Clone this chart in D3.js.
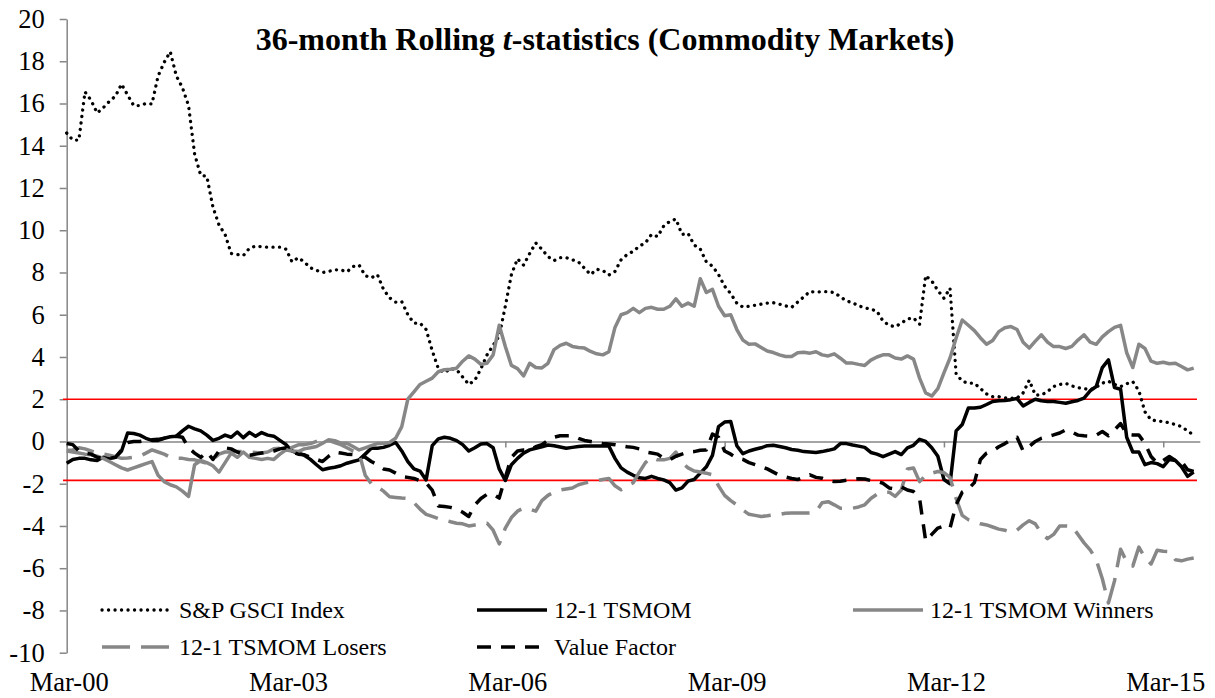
<!DOCTYPE html>
<html>
<head>
<meta charset="utf-8">
<script src="https://cdn.jsdelivr.net/npm/d3@7"></script>
<style>
  body { margin: 0; background: #fff; }
  svg { display: block; }
</style>
</head>
<body>
<div id="root"></div>
<script>
// monthly 36-month rolling t-statistics, one row per year starting Mar-00
const gsci = [
  14.6, 14.27, 14.27, 16.55, 16.15, 15.55, 15.8, 16.1, 16.35, 16.92, 16.4, 15.9,
  15.9, 16.0, 15.98, 17.3, 17.95, 18.45, 17.3, 16.75, 15.9, 13.6, 12.6, 12.55,
  11.1, 10.25, 9.8, 8.9, 8.85, 8.8, 9.15, 9.25, 9.22, 9.2, 9.2, 9.2,
  9.1, 8.5, 8.7, 8.5, 8.22, 8.1, 8.0, 8.05, 8.13, 8.12, 8.03, 8.28,
  8.35, 7.85, 7.75, 7.9, 7.2, 6.8, 6.6, 6.62, 6.0, 5.6, 5.6, 5.3,
  4.3, 3.45, 3.25, 3.45, 3.4, 3.05, 2.7, 2.9, 3.45, 4.1, 4.55, 5.0,
  6.4, 7.9, 8.65, 8.35, 8.9, 9.4, 9.1, 8.75, 8.56, 8.7, 8.7, 8.6,
  8.5, 8.2, 7.9, 8.15, 8.1, 7.88, 8.05, 8.6, 8.85, 9.0, 9.25, 9.4,
  9.8, 9.7, 10.2, 10.42, 10.53, 9.8, 9.85, 9.3, 9.11, 8.5, 8.3, 7.9,
  7.35, 7.0, 6.55, 6.36, 6.4, 6.45, 6.5, 6.55, 6.57, 6.5, 6.42, 6.35,
  6.6, 6.85, 7.1, 7.07, 7.09, 7.09, 7.05, 6.85, 6.65, 6.57, 6.42, 6.33,
  6.26, 6.17, 5.7, 5.5, 5.43, 5.6, 5.8, 5.85, 5.55, 7.85, 7.6, 7.15,
  6.78, 7.26, 3.2, 2.85, 2.76, 2.76, 2.5, 2.25, 2.12, 2.12, 2.07, 2.05,
  2.05, 2.3, 2.9, 2.2, 2.2, 2.36, 2.6, 2.7, 2.75, 2.63, 2.55, 2.5,
  2.45, 2.57, 2.76, 2.85, 2.7, 2.6, 2.73, 2.83, 2.4, 1.4, 1.02, 0.97,
  0.94, 0.88, 0.8, 0.7, 0.5, 0.3
];

const tsmom = [
  -1.03, -0.85, -0.8, -0.8, -0.87, -0.9, -0.75, -0.8, -0.75, -0.45, 0.4, 0.38,
  0.3, 0.15, 0.05, 0.05, 0.15, 0.22, 0.25, 0.5, 0.72, 0.6, 0.5, 0.3,
  0.05, 0.15, 0.3, 0.2, 0.45, 0.18, 0.43, 0.25, 0.42, 0.3, 0.25, 0.05,
  -0.15, -0.45, -0.55, -0.65, -0.85, -1.1, -1.34, -1.27, -1.22, -1.15, -1.03, -0.95,
  -0.87, -0.6, -0.32, -0.32, -0.28, -0.18, -0.05, -0.45, -0.95, -1.3, -1.4, -1.82,
  -0.2, 0.12, 0.2, 0.15, 0.04, -0.15, -0.45, -0.3, -0.12, -0.1, -0.3, -1.3,
  -1.85, -1.1, -0.8, -0.55, -0.4, -0.32, -0.25, -0.17, -0.2, -0.26, -0.32, -0.28,
  -0.24, -0.22, -0.21, -0.21, -0.21, -0.22, -0.8, -1.25, -1.45, -1.6, -1.72, -1.75,
  -1.65, -1.75, -1.82, -1.95, -2.3, -2.2, -1.88, -1.8, -1.5, -1.2, -0.66, 0.7,
  0.92, 0.95, -0.2, -0.58, -0.45, -0.37, -0.3, -0.2, -0.18, -0.24, -0.3, -0.38,
  -0.42, -0.48, -0.5, -0.52, -0.48, -0.42, -0.35, -0.1, -0.1, -0.17, -0.22, -0.28,
  -0.52, -0.6, -0.72, -0.6, -0.48, -0.62, -0.3, -0.18, 0.1, 0.0, -0.3, -0.7,
  -1.8, -2.0, 0.5, 0.8, 1.58, 1.58, 1.62, 1.75, 1.89, 1.93, 1.94, 1.98,
  2.03, 1.68, 1.85, 2.0, 1.93, 1.89, 1.89, 1.85, 1.81, 1.88, 1.94, 2.05,
  2.4, 2.6, 3.5, 3.86, 2.55, 2.47, 0.2, -0.5, -0.5, -1.1, -1.0, -1.05,
  -1.19, -0.85, -0.9, -1.2, -1.65, -1.45
];

const winners = [
  -0.45, -0.5, -0.55, -0.6, -0.63, -0.7, -0.8, -0.95, -1.1, -1.25, -1.35, -1.25,
  -1.15, -1.05, -0.95, -1.6, -1.9, -2.05, -2.15, -2.35, -2.6, -1.1, -0.9, -1.0,
  -1.15, -1.45, -1.0, -0.55, -0.75, -0.5, -0.75, -0.8, -0.85, -0.8, -0.85, -0.6,
  -0.4, -0.45, -0.48, -0.35, -0.3, -0.24, -0.08, 0.08, 0.04, -0.08, -0.08, -0.24,
  -0.4, -0.3, -0.2, -0.1, -0.1, -0.05, 0.15, 0.7, 2.0, 2.35, 2.7, 2.85,
  3.0, 3.3, 3.4, 3.42, 3.47, 3.8, 4.05, 3.9, 3.65, 3.7, 4.1, 5.5,
  4.5, 3.6, 3.45, 3.1, 3.7, 3.5, 3.48, 3.7, 4.35, 4.55, 4.65, 4.5,
  4.45, 4.42, 4.26, 4.15, 4.1, 4.25, 5.4, 6.0, 6.1, 6.3, 6.1, 6.3,
  6.35, 6.26, 6.26, 6.4, 6.75, 6.4, 6.55, 6.4, 7.7, 7.05, 7.2, 6.4,
  5.95, 6.0, 5.3, 4.8, 4.6, 4.62, 4.45, 4.28, 4.21, 4.1, 4.02, 4.02,
  4.2, 4.22, 4.18, 4.25, 4.1, 4.05, 4.15, 3.94, 3.71, 3.71, 3.65, 3.6,
  3.85, 4.0, 4.1, 4.1, 3.95, 3.9, 4.05, 3.9, 3.0, 2.3, 2.15, 2.5,
  3.25, 3.95, 4.9, 5.75, 5.5, 5.25, 4.9, 4.6, 4.78, 5.2, 5.38, 5.44,
  5.3, 4.7, 4.42, 4.75, 5.05, 4.7, 4.49, 4.49, 4.4, 4.5, 4.8, 5.05,
  4.7, 4.6, 4.95, 5.2, 5.4, 5.5, 4.2, 3.5, 4.6, 4.4, 3.8, 3.7,
  3.75, 3.68, 3.7, 3.55, 3.39, 3.47
];

const losers = [
  -0.42, -0.4, -0.3, -0.35, -0.45, -0.55, -0.6, -0.65, -0.72, -0.8, -0.78, -0.75,
  -0.7, -0.55, -0.4, -0.5, -0.6, -0.75, -0.79, -0.8, -0.85, -0.87, -0.95, -1.03,
  -0.85, -0.6, -0.5, -0.5, -0.48, -0.48, -0.5, -0.52, -0.55, -0.5, -0.35, -0.32,
  -0.4, -0.28, -0.16, -0.15, -0.1, 0.0, 0.08, 0.05, -0.05, -0.15, -0.3, -0.45,
  -0.55, -1.6, -2.0, -2.15, -2.35, -2.62, -2.65, -2.68, -2.7, -2.9, -3.2, -3.45,
  -3.55, -3.65, -3.72, -3.8, -3.87, -3.9, -4.0, -3.95, -3.9, -3.87, -4.2, -4.85,
  -4.1, -3.6, -3.3, -3.15, -3.2, -3.3, -2.8, -2.55, -2.4, -2.3, -2.25, -2.2,
  -2.05, -1.97, -1.9, -1.85, -1.8, -1.75, -2.1, -2.29, -2.1, -1.95, -1.45, -1.0,
  -0.75, -0.87, -0.87, -0.8, -0.5, -1.0, -1.25, -1.4, -1.45, -1.5, -1.58, -2.1,
  -2.55, -2.8, -3.0, -3.25, -3.45, -3.5, -3.55, -3.52, -3.48, -3.45, -3.4, -3.39,
  -3.39, -3.39, -3.38, -3.32, -2.9, -2.85, -3.0, -3.16, -3.16, -3.16, -3.1, -3.0,
  -2.7, -2.5, -2.4, -2.4, -2.6, -2.3, -1.3, -1.26, -1.9, -1.6, -1.5, -1.42,
  -1.48, -1.7, -2.7, -3.5, -3.7, -3.8, -3.9, -3.95, -4.05, -4.15, -4.2, -4.3,
  -4.2, -3.95, -3.75, -3.9, -4.35, -4.6, -4.4, -4.0, -4.0, -4.02, -4.4, -4.8,
  -5.13, -5.6, -6.5, -7.65, -6.6, -5.1, -5.7, -5.9, -5.0, -5.5, -5.8, -5.15,
  -5.2, -5.21, -5.6, -5.65, -5.57, -5.52
];

const valueFactor = [
  -0.1, -0.15, -0.45, -0.55, -0.6, -0.75, -0.8, -0.8, -0.75, -0.4, -0.05, 0.0,
  0.0, 0.05, 0.08, 0.1, 0.15, 0.2, 0.25, 0.2, -0.3, -0.55, -0.75, -0.5,
  -0.85, -0.45, -0.3, -0.35, -0.5, -0.6, -0.65, -0.6, -0.55, -0.5, -0.45, -0.35,
  -0.3, -0.5, -0.6, -0.63, -0.75, -0.85, -0.95, -0.7, -0.5, -0.55, -0.6, -0.62,
  -0.7, -0.75, -0.95, -1.1, -1.3, -1.35, -1.5, -1.66, -1.7, -1.75, -1.85, -1.97,
  -2.3, -3.05, -3.08, -3.12, -3.2, -3.35, -3.55, -3.0, -2.7, -2.5, -2.5, -2.68,
  -1.7, -0.75, -0.45, -0.4, -0.4, -0.25, -0.15, 0.05, 0.2, 0.27, 0.27, 0.27,
  0.15, 0.05, 0.0, -0.05, -0.1, -0.12, -0.15, -0.2, -0.25, -0.28, -0.35, -0.5,
  -0.55, -0.6, -0.8, -0.87, -0.7, -0.6, -0.5, -0.48, -0.42, -0.4, 0.35, 0.2,
  -0.45, -0.6, -0.78, -0.85, -1.0, -1.1, -1.2, -1.3, -1.45, -1.6, -1.68, -1.75,
  -1.8, -1.7, -1.58, -1.7, -1.74, -1.85, -1.9, -1.88, -1.84, -1.8, -1.76, -1.78,
  -1.85, -1.9, -1.98, -2.2, -2.25, -2.15, -2.3, -2.37, -2.7, -4.7, -4.4, -4.1,
  -4.0, -4.1, -3.0, -2.4, -2.25, -1.95, -0.85, -0.55, -0.45, -0.25, -0.1, 0.08,
  0.2, -0.45, -0.24, 0.0, 0.15, 0.23, 0.31, 0.4, 0.55, 0.45, 0.3, 0.27,
  0.25, 0.3, 0.47, 0.27, 0.55, 0.85, 0.35, 0.31, 0.31, -0.1, -0.71, -1.03,
  -0.9, -0.71, -0.9, -0.95, -1.34, -1.42
];

const xTickMonths = [0, 36, 72, 108, 144, 180];
const xTickLabels = ['Mar-00', 'Mar-03', 'Mar-06', 'Mar-09', 'Mar-12', 'Mar-15'];
const yTicks = [-10, -8, -6, -4, -2, 0, 2, 4, 6, 8, 10, 12, 14, 16, 18, 20];
const thresholds = [2, -1.84];

const seriesNames = ['S&P GSCI Index', '12-1 TSMOM', '12-1 TSMOM Winners', '12-1 TSMOM Losers', 'Value Factor'];

const width = 1215;
const height = 698;
const font = "'Liberation Serif', 'Times New Roman', serif";
const grey = '#878787';

const series = [
  { name: seriesNames[0], values: gsci, color: '#000', dash: '0.1 6.4', cap: 'round', w: 3.3 },
  { name: seriesNames[1], values: tsmom, color: '#000', dash: null, cap: 'butt', w: 3.5 },
  { name: seriesNames[2], values: winners, color: grey, dash: null, cap: 'butt', w: 3.5 },
  { name: seriesNames[3], values: losers, color: grey, dash: '28 11', cap: 'butt', w: 3.5 },
  { name: seriesNames[4], values: valueFactor, color: '#000', dash: '14 10', cap: 'butt', w: 3.5 },
];

series.forEach(s => {
  if (s.values.length !== 186) throw new Error(s.name + ' has ' + s.values.length);
});

const svg = d3
  .select('#root')
  .append('svg')
  .attr('width', width)
  .attr('height', height)
  .style('font-family', font);

const xScale = d3.scaleLinear().domain([0, 186]).range([66.7, 1199.8]);
const yScale = d3.scaleLinear().domain([-10, 20]).range([652.7, 19]);

// y axis
const yAxis = svg
  .append('g')
  .attr('transform', `translate(${xScale(0)},0)`)
  .call(
    d3.axisLeft(yScale)
      .tickValues(yTicks)
      .tickSize(7)
      .tickSizeOuter(0)
      .tickPadding(15)
      .tickFormat(d => String(d))
  );
yAxis.attr('font-family', font).attr('font-size', 26.5);
yAxis.select('.domain').attr('stroke', '#868686').attr('stroke-width', 1.5);
yAxis.selectAll('.tick line').attr('stroke', '#868686').attr('stroke-width', 1.5);
yAxis.selectAll('.tick text').attr('fill', '#000');

// horizontal axis crossing at zero
const xAxis = svg
  .append('g')
  .attr('transform', `translate(0,${yScale(0)})`)
  .call(
    d3.axisBottom(xScale)
      .tickValues(xTickMonths)
      .tickSize(6)
      .tickSizeOuter(0)
      .tickFormat('')
  );
xAxis.select('.domain').attr('stroke', '#868686').attr('stroke-width', 1.5);
xAxis.selectAll('.tick line').attr('stroke', '#868686').attr('stroke-width', 1.5);

// tick labels sit at the bottom of the plot
const xLabels = svg
  .append('g')
  .attr('transform', `translate(2,${yScale(-10)})`)
  .call(
    d3.axisBottom(xScale)
      .tickValues(xTickMonths)
      .tickSize(0)
      .tickPadding(19.5)
      .tickFormat((d, i) => xTickLabels[i])
  );
xLabels.attr('font-family', font).attr('font-size', 26.5);
xLabels.select('.domain').remove();
xLabels.selectAll('.tick text').attr('fill', '#000');

// significance bands
svg
  .selectAll('line.threshold')
  .data(thresholds)
  .enter()
  .append('line')
  .attr('class', 'threshold')
  .attr('x1', 63)
  .attr('x2', 1197)
  .attr('y1', d => yScale(d))
  .attr('y2', d => yScale(d))
  .attr('stroke', '#ff0000')
  .attr('stroke-width', 1.6);

const line = d3
  .line()
  .x((d, i) => xScale(i))
  .y(d => yScale(d));

svg
  .selectAll('path.series')
  .data(series)
  .enter()
  .append('path')
  .attr('class', 'series')
  .attr('d', d => line(d.values))
  .attr('fill', 'none')
  .attr('stroke', d => d.color)
  .attr('stroke-width', d => d.w)
  .attr('stroke-dasharray', d => d.dash)
  .attr('stroke-linecap', d => d.cap)
  .attr('stroke-linejoin', 'round');

// title
const title = svg
  .append('text')
  .attr('x', 605)
  .attr('y', 50)
  .attr('text-anchor', 'middle')
  .attr('font-size', 32)
  .attr('font-weight', 'bold');
title.append('tspan').text('36-month Rolling ');
title.append('tspan').attr('font-style', 'italic').text('t');
title.append('tspan').text('-statistics (Commodity Markets)');

// legend, two rows
const legendPos = [[102, 610], [477, 610], [853, 610], [102, 647], [477, 647]];

const legend = svg
  .selectAll('g.legend')
  .data(series)
  .enter()
  .append('g')
  .attr('class', 'legend')
  .attr('transform', (d, i) => `translate(${legendPos[i][0]},${legendPos[i][1]})`);

legend
  .append('line')
  .attr('x1', 0)
  .attr('x2', 70)
  .attr('stroke', d => d.color)
  .attr('stroke-width', d => d.w)
  .attr('stroke-dasharray', d => d.dash)
  .attr('stroke-linecap', d => d.cap);

legend
  .append('text')
  .attr('x', 77)
  .attr('y', 8)
  .attr('font-size', 24)
  .text(d => d.name);
</script>
</body>
</html>
